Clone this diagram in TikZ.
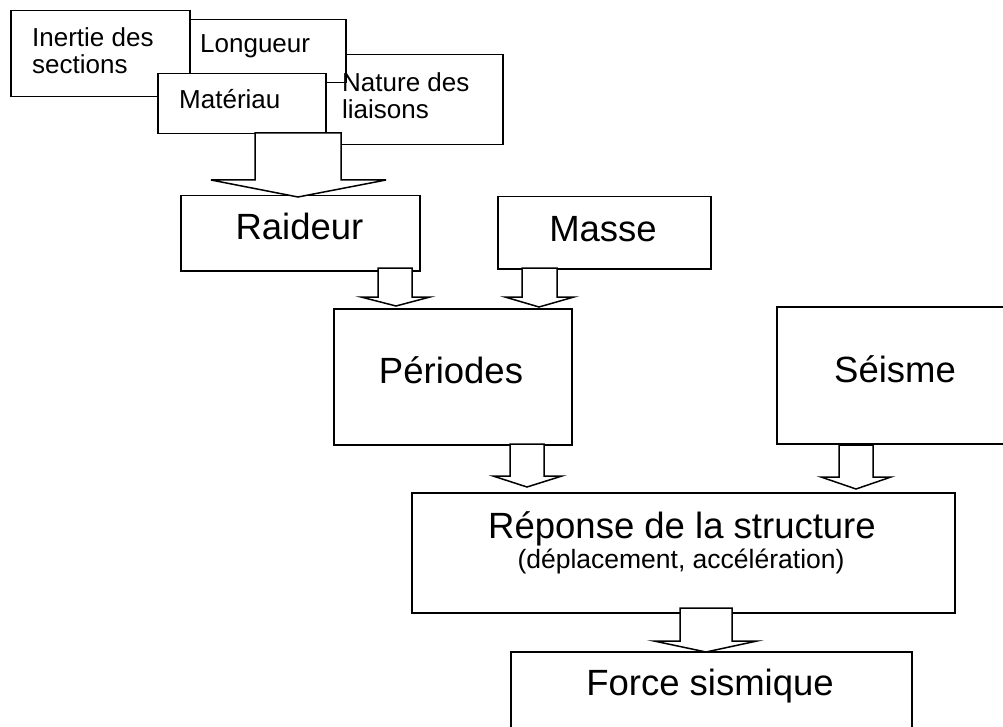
\documentclass[tikz,border=0pt]{standalone}
\usepackage{fontspec}
\setmainfont{Liberation Sans}
\begin{document}
\begin{tikzpicture}[x=1pt,y=-1pt,
  box/.style={draw=black,fill=white,line width=1.5pt,rectangle,inner sep=0pt,anchor=north west},
  barrow/.style={draw=black,fill=white,line width=1.5pt,line join=miter},
  bigtxt/.style={inner sep=0pt,anchor=base,font=\fontsize{36.5}{40}\selectfont},
  subtxt/.style={inner sep=0pt,anchor=base,font=\fontsize{26.5}{30}\selectfont},
  smalltxt/.style={inner sep=0pt,anchor=base west,font=\fontsize{26}{27}\selectfont}]
\useasboundingbox (0,0) rectangle (1003,727);
\clip (0,0) rectangle (1003,727);
\fill[white] (0,0) rectangle (1003,727);

% --- top cluster of small boxes (back to front) ---
\node[box,minimum width=182pt,minimum height=90pt] (nature) at (320,54) {};
\node[box,minimum width=167pt,minimum height=63pt] (longueur) at (178,19) {};
\node[box,minimum width=179pt,minimum height=86pt] (inertie) at (10,10) {};
\node[box,minimum width=168pt,minimum height=60pt] (materiau) at (157,73) {};

\node[smalltxt] (tinertie1) at (32,47) {Inertie des};
\node[smalltxt] (tinertie2) at (32,74) {sections};
\node[smalltxt] (tlongueur) at (200,53) {Longueur};
\node[smalltxt] (tmateriau) at (179,109) {Matériau};

% --- main boxes ---
\node[box,minimum width=239pt,minimum height=75pt] (raideur) at (180,195) {};
\node[box,minimum width=213pt,minimum height=72pt] (masse) at (497,196) {};
\node[box,minimum width=238pt,minimum height=136pt] (periodes) at (333,308) {};
\node[box,minimum width=240pt,minimum height=137pt] (seisme) at (776,306) {};
\node[box,minimum width=543pt,minimum height=120pt] (reponse) at (411,492) {};
\node[box,minimum width=401pt,minimum height=100pt] (force) at (510,651) {};

% --- block arrows ---
\draw[barrow] (255,133) -- (255,180) -- (211,180) -- (298,197) -- (386,180) -- (341,180) -- (341,133) -- cycle;
\draw[barrow] (378,268) -- (378,297) -- (361,297) -- (396,306) -- (430,297) -- (412,297) -- (412,268) -- cycle;
\draw[barrow] (522,268) -- (522,297) -- (505,297) -- (539,307) -- (574,297) -- (557,297) -- (557,268) -- cycle;
\draw[barrow] (510,444) -- (510,476) -- (493,476) -- (527,487) -- (562,476) -- (544,476) -- (544,444) -- cycle;
\draw[barrow] (839,445) -- (839,477) -- (821,477) -- (856,489) -- (891,477) -- (873,477) -- (873,445) -- cycle;
\draw[barrow] (680,608) -- (680,641) -- (654,641) -- (706,652) -- (757,641) -- (732,641) -- (732,608) -- cycle;

% --- texts ---
\node[smalltxt] (tnature1) at (342,92) {Nature des};
\node[smalltxt] (tnature2) at (342,119) {liaisons};
\node[bigtxt] (traideur) at (299.5,240) {Raideur};
\node[bigtxt] (tmasse) at (603,242) {Masse};
\node[bigtxt] (tperiodes) at (451,383) {Périodes};
\node[bigtxt] (tseisme) at (895,382) {Séisme};
\node[bigtxt] (treponse) at (682,538) {Réponse de la structure};
\node[subtxt] (treponse2) at (681,568) {(déplacement, accélération)};
\node[bigtxt] (tforce) at (710,695) {Force sismique};
\end{tikzpicture}
\end{document}
